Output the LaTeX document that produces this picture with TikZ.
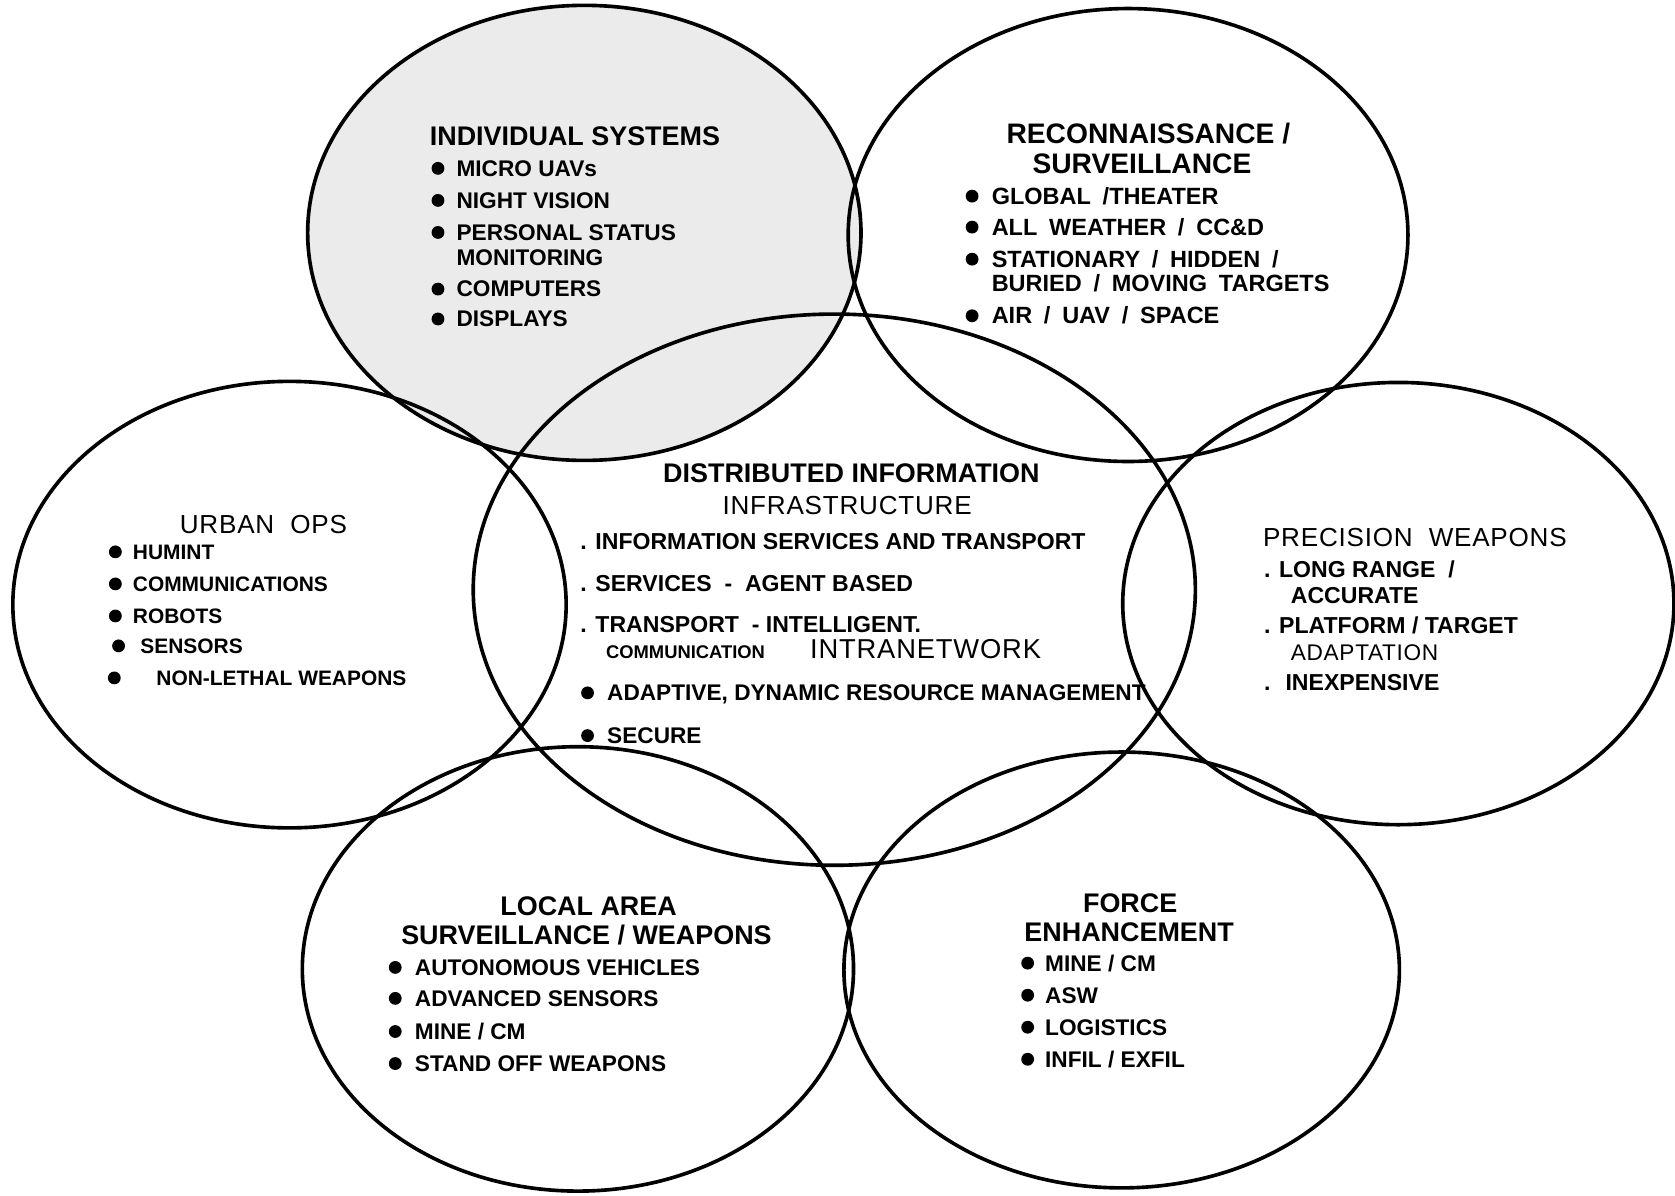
\documentclass[tikz,border=0pt]{standalone}
\usepackage{fontspec}
\setmainfont{Liberation Sans}
\newfontfamily\widefont[LetterSpace=3]{Liberation Sans}
\newfontfamily\airyfont[WordSpace=1.8]{Liberation Sans}
\usetikzlibrary{shapes.geometric}
\definecolor{ringline}{HTML}{000000}
\definecolor{stipple}{HTML}{EBEBEB}
\tikzset{
  area/.style={
    ellipse,
    draw=ringline,
    line width=1.7pt,
    inner sep=0pt,
  },
  heading/.style={
    anchor=base,
    inner sep=0pt,
    font=\bfseries\fontsize{12.6}{14}\selectfont,
  },
  thin heading/.style={
    anchor=base west,
    inner sep=0pt,
    font=\widefont\fontsize{#1}{14}\selectfont,
  },
  thin heading/.default=12.2,
  entry/.style={
    anchor=base west,
    inner sep=0pt,
    font=\bfseries\fontsize{#1}{12}\selectfont,
  },
  entry/.default=10.6,
  airy entry/.style={
    anchor=base west,
    inner sep=0pt,
    font=\airyfont\bfseries\fontsize{11}{12}\selectfont,
  },
  bulletdot/.style={
    fill=ringline,
  },
}

\begin{document}
\begin{tikzpicture}[x=0.5pt,y=-0.5pt]
  \useasboundingbox (0,0) rectangle (1568,1119);

  % Capability areas (the shaded one first, so the others draw over it).
  \node[area, fill=stipple, minimum width=259pt, minimum height=213pt] (indiv) at (547,218) {};
  \node[area, minimum width=262pt, minimum height=212pt] (recon) at (1056,220) {};
  \node[area, minimum width=259pt, minimum height=209pt] (urban) at (271,566) {};
  \node[area, minimum width=338pt, minimum height=258pt] (dii) at (781,552) {};
  \node[area, minimum width=258pt, minimum height=207pt] (precision) at (1309,565) {};
  \node[area, minimum width=258pt, minimum height=208pt] (local) at (541,907) {};
  \node[area, minimum width=260pt, minimum height=204pt] (force) at (1050,908) {};

  % Individual systems.
  \node[heading, anchor=base west] (indivtitle) at (402,136) {INDIVIDUAL SYSTEMS};
  \node[entry] (indiv1) at (427,165) {MICRO UAVs};
  \node[entry] (indiv2) at (427,195) {NIGHT VISION};
  \node[entry] (indiv3) at (427,225) {PERSONAL STATUS};
  \node[entry] (indiv3b) at (427,249) {MONITORING};
  \node[entry] (indiv4) at (427,278) {COMPUTERS};
  \node[entry] (indiv5) at (427,306) {DISPLAYS};

  % Reconnaissance / surveillance.
  \node[heading, font=\bfseries\fontsize{13.2}{14}\selectfont] (recontitle) at (1075,134) {RECONNAISSANCE /};
  \node[heading, font=\bfseries\fontsize{13.2}{14}\selectfont] (recontitleb) at (1069,162) {SURVEILLANCE};
  \node[airy entry] (recon1) at (928,191) {GLOBAL /THEATER};
  \node[airy entry] (recon2) at (928,220) {ALL WEATHER / CC\&D};
  \node[airy entry] (recon3) at (928,250) {STATIONARY / HIDDEN /};
  \node[airy entry] (recon3b) at (928,273) {BURIED / MOVING TARGETS};
  \node[airy entry] (recon4) at (928,303) {AIR / UAV / SPACE};

  % Urban ops.
  \node[thin heading] (urbantitle) at (168,499) {URBAN\ \ OPS};
  \node[entry=9.8] (urban1) at (124,524) {HUMINT};
  \node[entry=9.8] (urban2) at (124,554) {COMMUNICATIONS};
  \node[entry=9.8] (urban3) at (124,584) {ROBOTS};
  \node[entry=9.8] (urban4) at (131,612) {SENSORS};
  \node[entry=9.8] (urban5) at (146,642) {NON-LETHAL WEAPONS};

  % Distributed information infrastructure.
  \node[heading] (diititle) at (797,452) {DISTRIBUTED INFORMATION};
  \node[thin heading, anchor=base] (diititleb) at (793,482) {INFRASTRUCTURE};
  \node[entry=10.8] (dii1) at (543,514) {. INFORMATION SERVICES AND TRANSPORT};
  \node[entry=10.8] (dii2) at (543,554) {. SERVICES\ \ -\ \ AGENT BASED};
  \node[entry=10.8] (dii3) at (543,592) {. TRANSPORT\ \ -\ INTELLIGENT.};
  \node[entry=8.6] (dii3b) at (567,616) {COMMUNICATION};
  \node[thin heading=12.8] (dii3c) at (758,616) {INTRANETWORK};
  \node[entry] (dii4) at (568,656) {ADAPTIVE, DYNAMIC RESOURCE MANAGEMENT};
  \node[entry] (dii5) at (568,696) {SECURE};

  % Precision weapons.
  \node[thin heading] (prectitle) at (1182,512) {PRECISION\ \ WEAPONS};
  \node[entry=10.8] (prec1) at (1183,541) {. LONG RANGE\ \ /};
  \node[entry=10.8] (prec1b) at (1208,565) {ACCURATE};
  \node[entry=10.8] (prec2) at (1183,593) {. PLATFORM / TARGET};
  \node[thin heading=10.6] (prec2b) at (1208,618) {ADAPTATION};
  \node[entry=10.8] (prec3) at (1183,646) {.\hspace{7pt}INEXPENSIVE};

  % Local area surveillance / weapons.
  \node[heading] (localtitle) at (551,857) {LOCAL AREA};
  \node[heading] (localtitleb) at (549,884) {SURVEILLANCE / WEAPONS};
  \node[entry] (local1) at (388,913) {AUTONOMOUS VEHICLES};
  \node[entry] (local2) at (388,942) {ADVANCED SENSORS};
  \node[entry] (local3) at (388,973) {MINE / CM};
  \node[entry] (local4) at (388,1003) {STAND OFF WEAPONS};

  % Force enhancement.
  \node[heading] (forcetitle) at (1058,854) {FORCE};
  \node[heading] (forcetitleb) at (1057,881) {ENHANCEMENT};
  \node[entry] (force1) at (978,909) {MINE / CM};
  \node[entry] (force2) at (978,939) {ASW};
  \node[entry] (force3) at (978,969) {LOGISTICS};
  \node[entry] (force4) at (978,999) {INFIL / EXFIL};

  % Bullet dots in front of the list entries.
  \foreach \entryname/\gap in {indiv1/8.5pt,indiv2/8.5pt,indiv3/8.5pt,indiv4/8.5pt,indiv5/8.5pt,
      recon1/9pt,recon2/9pt,recon3/9pt,recon4/9pt,
      urban1/8pt,urban2/8pt,urban3/8pt,urban4/10pt,urban5/19.5pt,
      dii4/9pt,dii5/9pt,
      local1/9pt,local2/9pt,local3/9pt,local4/9pt,
      force1/8pt,force2/8pt,force3/8pt,force4/8pt}{
    \fill[bulletdot] ([xshift=-\gap,yshift=3.7pt]\entryname.base west) circle (3pt);
  }
\end{tikzpicture}
\end{document}
